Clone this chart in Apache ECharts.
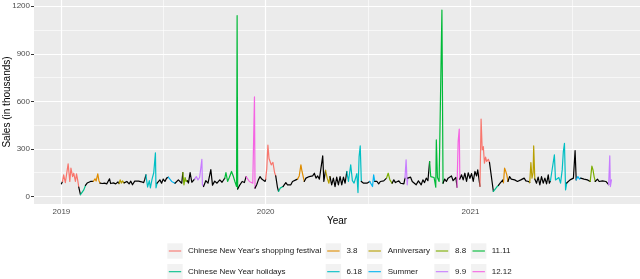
<!DOCTYPE html>
<html><head><meta charset="utf-8">
<script src="https://cdn.jsdelivr.net/npm/echarts@6/dist/echarts.min.js"></script>
<style>html,body{margin:0;padding:0;background:#fff}#c{width:640px;height:279px}</style>
</head><body><div id="c"></div>
<script>
const periods = ["Chinese New Year's shopping festival","Chinese New Year holidays","3.8","6.18","Anniversary","Summer","8.8","9.9","11.11","12.12"];
const periodColors = ['#F8766D','#00C08B','#DE8C00','#00BFC4','#B79F00','#00B4F0','#7CAE00','#C77CFF','#00BA38','#F564E3'];
const yTicks = [0,300,600,900,1200];
const yMinor = [150,450,750,1050];
const xTicks = ['2019-01-01','2020-01-01','2021-01-01'];
const xLimits = ['2018-11-13','2021-10-31'];
// period code: index into periods, N = regular day (black)
const N=-1, CS=0, CH=1, M38=2, M618=3, AN=4, SU=5, M88=6, M99=7, M1111=8, M1212=9;

const sales2019 = [
['2019-01-01',80,N],['2019-01-03',95,CS],['2019-01-05',137,CS],['2019-01-08',88,CS],['2019-01-13',206,CS],
['2019-01-16',95,CS],['2019-01-18',179,CS],['2019-01-21',126,CS],['2019-01-23',147,CS],['2019-01-26',95,CS],
['2019-01-28',143,CS],['2019-01-30',105,CS],['2019-02-01',60,N],['2019-02-04',12,CH],['2019-02-07',22,CH],
['2019-02-10',42,CH],['2019-02-13',70,N],['2019-02-16',85,N],['2019-02-19',75,N],['2019-02-22',95,N],
['2019-02-25',88,N],['2019-02-27',95,M38],['2019-03-02',112,M38],['2019-03-04',98,M38],['2019-03-07',143,M38],
['2019-03-09',100,M38],['2019-03-11',85,N],['2019-03-15',82,N],['2019-03-19',85,N],['2019-03-23',80,N],
['2019-03-26',88,N],['2019-03-28',112,N],['2019-03-30',82,N],['2019-04-04',86,N],['2019-04-08',80,N],
['2019-04-12',92,N],['2019-04-14',82,AN],['2019-04-16',105,AN],['2019-04-18',85,AN],['2019-04-20',98,AN],
['2019-04-23',86,N],['2019-04-24',74,N],['2019-04-28',95,N],['2019-05-02',80,N],['2019-05-05',97,N],
['2019-05-08',74,N],['2019-05-12',97,N],['2019-05-15',88,N],['2019-05-19',97,N],['2019-05-24',93,N],
['2019-05-28',88,N],['2019-05-30',108,N],['2019-06-01',137,M618],['2019-06-04',60,M618],['2019-06-07',100,M618],
['2019-06-09',55,M618],['2019-06-12',110,M618],['2019-06-15',150,M618],['2019-06-18',275,M618],['2019-06-19',55,M618],
['2019-06-21',85,N],['2019-06-23',74,N],['2019-06-26',105,N],['2019-06-29',84,N],['2019-07-02',110,N],
['2019-07-05',95,N],['2019-07-08',116,N],['2019-07-11',122,SU],['2019-07-14',110,SU],['2019-07-17',95,SU],
['2019-07-20',105,SU],['2019-07-23',84,N],['2019-07-26',95,N],['2019-07-29',105,N],['2019-08-01',116,N],
['2019-08-04',84,N],['2019-08-06',151,M88],['2019-08-08',74,M88],['2019-08-10',120,M88],['2019-08-12',95,M88],
['2019-08-14',100,N],['2019-08-16',85,N],['2019-08-19',151,N],['2019-08-22',90,N],['2019-08-24',88,N],
['2019-08-27',110,M99],['2019-08-30',126,M99],['2019-09-02',105,M99],['2019-09-05',120,M99],['2019-09-07',110,M99],
['2019-09-09',234,M99],['2019-09-10',74,M99],['2019-09-12',63,N],['2019-09-16',100,N],['2019-09-20',84,N],
['2019-09-25',170,N],['2019-09-28',72,N],['2019-10-02',97,N],['2019-10-06',84,N],['2019-10-11',105,N],
['2019-10-15',90,N],['2019-10-18',100,N],['2019-10-20',116,M1111],['2019-10-22',151,M1111],['2019-10-25',95,M1111],
['2019-10-28',120,M1111],['2019-11-01',158,M1111],['2019-11-04',130,M1111],['2019-11-07',95,M1111],['2019-11-10',63,M1111],
['2019-11-11',1140,M1111],['2019-11-12',47,N],['2019-11-16',74,N],['2019-11-20',95,N],['2019-11-24',88,N],
['2019-11-27',126,M1212],['2019-11-30',122,M1212],['2019-12-03',95,M1212],['2019-12-06',105,M1212],['2019-12-09',84,M1212],
['2019-12-12',628,M1212],['2019-12-13',53,N],['2019-12-16',74,N],['2019-12-19',105,N],['2019-12-22',126,N],
['2019-12-25',110,N],['2019-12-28',105,N],['2019-12-31',95,N]
];

const sales2020 = [
['2020-01-01',110,CS],['2020-01-03',175,CS],['2020-01-05',325,CS],['2020-01-07',240,CS],['2020-01-09',250,CS],
['2020-01-11',200,CS],['2020-01-14',215,CS],['2020-01-17',150,CS],['2020-01-19',130,N],['2020-01-22',60,N],
['2020-01-24',32,CH],['2020-01-27',53,CH],['2020-01-30',50,CH],['2020-02-01',63,N],['2020-02-03',74,N],
['2020-02-06',88,N],['2020-02-09',74,N],['2020-02-12',80,N],['2020-02-15',74,N],['2020-02-18',95,N],
['2020-02-21',84,N],['2020-02-24',105,N],['2020-02-27',110,M38],['2020-03-01',130,M38],['2020-03-04',200,M38],
['2020-03-06',158,M38],['2020-03-08',147,M38],['2020-03-10',95,N],['2020-03-13',116,N],['2020-03-16',105,N],
['2020-03-19',126,N],['2020-03-22',137,N],['2020-03-25',130,N],['2020-03-28',147,N],['2020-03-31',116,N],
['2020-04-03',130,N],['2020-04-06',110,N],['2020-04-09',100,N],['2020-04-12',256,N],['2020-04-14',95,N],
['2020-04-17',165,AN],['2020-04-20',116,AN],['2020-04-23',84,AN],['2020-04-25',126,N],['2020-04-28',74,N],
['2020-05-01',116,N],['2020-05-04',63,N],['2020-05-07',122,N],['2020-05-10',74,N],['2020-05-13',126,N],
['2020-05-16',74,N],['2020-05-19',122,N],['2020-05-22',84,N],['2020-05-25',158,M618],['2020-05-28',95,M618],
['2020-06-01',200,M618],['2020-06-04',100,M618],['2020-06-07',85,M618],['2020-06-10',120,M618],['2020-06-12',145,M618],
['2020-06-14',25,M618],['2020-06-16',252,M618],['2020-06-18',319,M618],['2020-06-20',95,N],['2020-06-24',84,N],
['2020-06-27',95,N],['2020-06-30',84,N],['2020-07-03',88,N],['2020-07-05',95,SU],['2020-07-08',105,SU],
['2020-07-10',63,SU],['2020-07-12',137,SU],['2020-07-14',95,N],['2020-07-18',95,N],['2020-07-21',80,N],
['2020-07-24',95,N],['2020-07-27',84,N],['2020-07-30',99,N],['2020-08-02',88,N],['2020-08-04',116,M88],
['2020-08-07',147,M88],['2020-08-10',105,M88],['2020-08-12',116,M88],['2020-08-14',84,N],['2020-08-17',105,N],
['2020-08-20',88,N],['2020-08-23',95,N],['2020-08-26',99,N],['2020-08-29',84,N],['2020-09-01',88,N],
['2020-09-04',80,N],['2020-09-06',116,M99],['2020-09-08',231,M99],['2020-09-10',74,M99],['2020-09-11',116,N],
['2020-09-13',105,N],['2020-09-16',122,N],['2020-09-19',95,N],['2020-09-22',105,N],['2020-09-26',74,N],
['2020-09-30',99,N],['2020-10-02',95,N],['2020-10-05',74,N],['2020-10-08',105,N],['2020-10-11',88,N],
['2020-10-14',116,N],['2020-10-17',100,N],['2020-10-20',221,M1111],['2020-10-22',126,M1111],['2020-10-25',135,M1111],
['2020-10-28',120,M1111],['2020-10-31',59,M1111],['2020-11-01',357,M1111],['2020-11-03',120,M1111],['2020-11-06',95,M1111],
['2020-11-08',84,M1111],['2020-11-11',1176,M1111],['2020-11-13',84,N],['2020-11-16',110,N],['2020-11-19',95,N],
['2020-11-22',116,N],['2020-11-25',105,N],['2020-11-28',130,N],['2020-12-01',100,N],['2020-12-04',105,N],
['2020-12-06',120,N],['2020-12-08',59,M1212],['2020-12-10',347,M1212],['2020-12-12',425,M1212],['2020-12-13',110,N],
['2020-12-16',137,N],['2020-12-19',105,N],['2020-12-22',147,N],['2020-12-25',95,N],['2020-12-28',150,N],
['2020-12-31',115,N]
];

const sales2021 = [
['2021-01-03',145,N],['2021-01-06',95,N],['2021-01-09',158,N],['2021-01-12',130,N],['2021-01-14',168,N],
['2021-01-16',179,N],['2021-01-18',65,CS],['2021-01-20',488,CS],['2021-01-22',294,CS],['2021-01-24',315,CS],
['2021-01-26',210,CS],['2021-01-28',248,CS],['2021-01-30',221,CS],['2021-02-02',235,CS],['2021-02-04',215,N],
['2021-02-11',32,CH],['2021-02-14',40,CH],['2021-02-17',60,CH],['2021-02-20',70,N],['2021-02-23',84,N],
['2021-02-26',90,N],['2021-02-28',105,N],['2021-03-01',88,M38],['2021-03-03',179,M38],['2021-03-05',160,M38],
['2021-03-07',137,M38],['2021-03-09',95,N],['2021-03-12',126,N],['2021-03-15',110,N],['2021-03-18',120,N],
['2021-03-21',105,N],['2021-03-24',116,N],['2021-03-26',95,N],['2021-03-29',99,N],['2021-04-01',105,N],
['2021-04-04',95,N],['2021-04-07',116,N],['2021-04-10',99,N],['2021-04-13',110,N],['2021-04-15',95,N],
['2021-04-17',88,AN],['2021-04-19',214,AN],['2021-04-21',116,AN],['2021-04-23',150,AN],['2021-04-24',319,AN],
['2021-04-26',110,N],['2021-04-29',84,N],['2021-05-02',122,N],['2021-05-05',74,N],['2021-05-08',126,N],
['2021-05-11',84,N],['2021-05-14',116,N],['2021-05-17',80,N],['2021-05-20',137,N],['2021-05-22',84,N],
['2021-05-24',100,M618],['2021-05-26',147,M618],['2021-05-31',263,M618],['2021-06-02',105,M618],['2021-06-05',95,M618],
['2021-06-08',120,M618],['2021-06-11',85,M618],['2021-06-14',168,M618],['2021-06-16',283,M618],['2021-06-18',335,M618],
['2021-06-20',42,M618],['2021-06-22',85,N],['2021-06-25',95,N],['2021-06-28',105,N],['2021-07-01',99,N],
['2021-07-04',116,N],['2021-07-06',126,N],['2021-07-07',290,N],['2021-07-09',105,SU],['2021-07-12',126,SU],
['2021-07-15',110,SU],['2021-07-17',116,N],['2021-07-20',116,N],['2021-07-23',110,N],['2021-07-26',122,N],
['2021-07-29',105,N],['2021-08-01',110,N],['2021-08-03',95,M88],['2021-08-06',192,M88],['2021-08-08',168,M88],
['2021-08-10',126,M88],['2021-08-12',95,N],['2021-08-16',110,N],['2021-08-19',95,N],['2021-08-22',105,N],
['2021-08-25',99,N],['2021-08-28',110,N],['2021-08-31',95,N],['2021-09-03',99,N],['2021-09-05',75,M99],
['2021-09-07',257,M99],['2021-09-08',63,M99],['2021-09-10',105,M99]
];

const FONT = '"Liberation Sans", Arial, Helvetica, sans-serif';
function ts(s){ const p = s.split('-').map(Number); return new Date(p[0], p[1]-1, p[2]).getTime(); }

const all = sales2019.concat(sales2020, sales2021).map(r => [ts(r[0]), r[1], r[2]]);
const series = [];
let start = 0;
for (let i = 1; i <= all.length; i++) {
  if (i === all.length || all[i][2] !== all[start][2]) {
    const p = all[start][2];
    const col = p < 0 ? '#000000' : periodColors[p];
    series.push({
      type: 'line', name: p < 0 ? 'none' : periods[p],
      data: all.slice(start, Math.min(i + 1, all.length)).map(r => [r[0], r[1]]),
      showSymbol: false, symbol: 'none', silent: true, animation: false,
      lineStyle: { width: 1.2, color: col, join: 'round', cap: 'round' },
      itemStyle: { color: col }, z: 3
    });
    start = i;
  }
}

const xTickTs = xTicks.map(ts);
const xMinorTs = [];
for (let i = 0; i < xTickTs.length; i++) {
  const next = i + 1 < xTickTs.length ? xTickTs[i + 1] : ts('2022-01-01');
  xMinorTs.push((xTickTs[i] + next) / 2);
}
const grid = [];
yMinor.forEach(v => grid.push({ yAxis: v, lineStyle: { width: 0.6 } }));
xMinorTs.forEach(v => grid.push({ xAxis: v, lineStyle: { width: 0.6 } }));
yTicks.forEach(v => grid.push({ yAxis: v, lineStyle: { width: 1.2 } }));
xTickTs.forEach(v => grid.push({ xAxis: v, lineStyle: { width: 1.2 } }));

// background gridlines attached to the first data series, drawn below the lines
series[0].markLine = {
  z: 1, silent: true, animation: false, symbol: ['none', 'none'],
  label: { show: false }, emphasis: { disabled: true },
  lineStyle: { color: '#FFFFFF', type: 'solid', width: 1.2 },
  data: grid
};

const graphics = [];
const colX = [167.3, 325.7, 367, 434.3, 471];
const rowY = [243.3, 264];
const key = 15.4;
periods.forEach((name, i) => {
  const x = colX[Math.floor(i / 2)], y = rowY[i % 2];
  graphics.push({ type: 'rect', silent: true, shape: { x: x, y: y, width: key, height: key }, style: { fill: '#F2F2F2' } });
  graphics.push({ type: 'line', silent: true, shape: { x1: x + 1.5, y1: y + key / 2, x2: x + key - 1.5, y2: y + key / 2 }, style: { stroke: periodColors[i], lineWidth: 1.1 } });
  graphics.push({ type: 'text', silent: true, style: { text: name, x: x + key + 5.3, y: y + key / 2, verticalAlign: 'middle', textVerticalAlign: 'middle', fontSize: 8, fontFamily: FONT, fill: '#1A1A1A' } });
});

const chart = echarts.init(document.getElementById('c'), null, { renderer: 'canvas' });
chart.setOption({
  animation: false,
  backgroundColor: '#FFFFFF',
  textStyle: { fontFamily: FONT },
  grid: { left: 34, top: 0, width: 606, height: 204, show: true, backgroundColor: '#EBEBEB', borderWidth: 0, containLabel: false, outerBoundsMode: 'none' },
  xAxis: {
    type: 'value', min: ts(xLimits[0]), max: ts(xLimits[1]),
    splitLine: { show: false }, minorSplitLine: { show: false },
    axisLine: { show: false },
    axisTick: { show: true, length: 3, customValues: xTickTs, lineStyle: { color: '#333333', width: 1 } },
    axisLabel: { customValues: xTickTs, formatter: v => String(new Date(v).getFullYear()), color: '#4D4D4D', fontSize: 8, margin: 4, fontFamily: FONT },
    name: 'Year', nameLocation: 'middle', nameGap: 12, nameMoveOverlap: false,
    nameTextStyle: { fontSize: 10, color: '#000000', fontFamily: FONT }
  },
  yAxis: {
    type: 'value', min: -47, max: 1239,
    splitLine: { show: false },
    axisLine: { show: false },
    axisTick: { show: true, length: 3, customValues: yTicks, lineStyle: { color: '#333333', width: 1 } },
    axisLabel: { customValues: yTicks, formatter: v => String(v), color: '#4D4D4D', fontSize: 8, margin: 4, fontFamily: FONT },
    name: 'Sales (in thousands)', nameLocation: 'middle', nameGap: 22, nameMoveOverlap: false,
    nameTextStyle: { fontSize: 10, color: '#000000', fontFamily: FONT }
  },
  series: series,
  graphic: graphics
});
</script>
</body></html>
